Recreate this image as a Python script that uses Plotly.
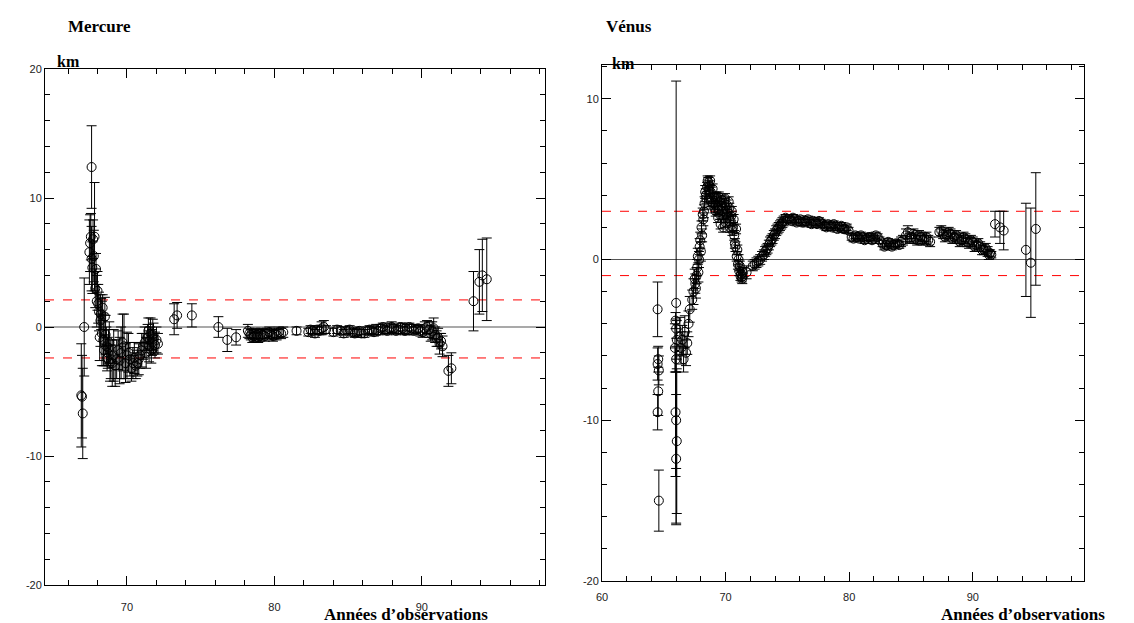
import plotly.graph_objects as go

# ---------------- Mercure data (year, residual km, error km) ----------------
mer_years = [66.9, 66.95, 67.0, 67.1, 67.6, 67.45, 67.5, 67.55, 67.6, 67.65, 67.7, 67.8, 67.85, 67.9,
             68.0, 68.1, 68.2, 68.3, 68.35, 68.4, 68.5, 68.6, 68.7, 68.8, 68.9, 69.0, 69.2, 69.4,
             69.6, 69.8, 70.0, 70.2, 70.4, 70.6, 70.8, 70.9, 71.0, 71.2, 71.4, 71.5, 71.6, 71.7,
             71.8, 72.0, 72.1, 73.2, 73.4, 74.4, 76.2, 76.8, 77.4,
             78.2, 78.4, 78.6, 78.8, 79.0, 79.2, 79.5, 79.8, 80.0, 80.3, 80.6, 81.5, 82.3, 82.6,
             82.9, 83.2, 83.5, 84.0, 84.5, 84.9, 85.3, 85.6, 85.9, 86.3, 86.6, 86.9, 87.2, 87.5,
             87.8, 88.1, 88.4, 88.7, 89.0, 89.3, 89.6, 89.9, 90.2, 90.5, 90.7, 90.9, 91.0, 91.2,
             91.4, 91.8, 92.0, 93.5, 93.9, 94.1, 94.4,
             67.75, 67.95, 68.05, 68.15, 68.25, 68.45, 68.55, 68.65, 68.75, 68.85, 69.1, 69.3, 69.5,
             69.7, 69.9, 70.1, 70.3, 70.5, 70.7, 71.1, 71.3, 71.45, 71.55, 71.65, 71.75, 71.9,
             78.3, 78.5, 78.7, 78.9, 79.1, 79.35, 79.65, 79.9, 80.15, 80.45, 82.45, 82.75, 83.05,
             83.35, 84.25, 84.7, 85.1, 85.45, 85.75, 86.1, 86.45, 86.75, 87.05, 87.35, 87.65, 87.95,
             88.25, 88.55, 88.85, 89.15, 89.45, 89.75, 90.05, 90.35, 90.6, 90.8, 91.1, 91.3]
mer_values = [-5.3, -5.4, -6.7, 0.0, 12.4, 5.8, 6.5, 7.0, 5.3, 4.6, 6.8, 7.0, 3.0, 4.5,
              2.8, 1.2, 0.5, -0.5, 1.5, -1.0, 0.8, -1.5, -2.0, -1.2, -2.5, -2.8, -3.0, -1.8,
              -2.0, -1.5, -2.2, -2.5, -2.8, -3.0, -2.5, -2.2, -1.8, -1.2, -0.8, -1.5, -0.5, -1.2,
              -0.9, -1.0, -1.3, 0.6, 0.9, 0.9, 0.0, -1.0, -0.8,
              -0.3, -0.6, -0.7, -0.6, -0.7, -0.6, -0.5, -0.6, -0.5, -0.4, -0.4, -0.3, -0.4, -0.3,
              -0.2, -0.1, -0.2, -0.4, -0.3, -0.3, -0.4, -0.4, -0.5, -0.3, -0.3, -0.2, -0.1, -0.2,
              -0.1, -0.1, -0.2, -0.1, -0.2, -0.1, -0.2, -0.3, -0.1, -0.2, -0.3, -0.6, -0.9, -1.3,
              -1.5, -3.4, -3.2, 2.0, 3.5, 4.0, 3.7,
              5.5, 2.0, 1.8, -0.8, 1.0, -1.8, -0.6, -2.4, -1.6, -2.8, -2.2, -2.5, -2.6,
              -1.2, -2.8, -2.0, -3.2, -2.4, -2.8, -1.5, -2.0, -0.3, -1.0, -1.8, -0.6, -1.4,
              -0.5, -0.8, -0.5, -0.8, -0.5, -0.7, -0.4, -0.7, -0.6, -0.5, -0.2, -0.5, -0.3,
              0.0, -0.2, -0.5, -0.2, -0.5, -0.3, -0.5, -0.2, -0.4, -0.3, 0.0, -0.3, 0.0,
              -0.3, 0.0, -0.3, 0.0, -0.3, -0.1, -0.4, 0.0, -0.5, -0.1, -0.8, -1.1]
mer_errors = [4.0, 3.2, 3.5, 3.8, 3.2, 2.5, 2.2, 1.8, 2.5, 2.0, 1.5, 4.2, 1.5, 1.2,
              1.5, 1.5, 2.0, 2.5, 1.0, 2.0, 1.5, 1.5, 1.2, 1.6, 1.5, 1.8, 1.6, 1.5,
              2.0, 2.5, 1.8, 1.3, 1.2, 1.0, 1.2, 1.0, 1.3, 1.2, 1.0, 1.2, 1.2, 1.0,
              1.2, 1.0, 0.8, 1.2, 1.0, 0.9, 0.8, 0.9, 0.6,
              0.5, 0.4, 0.4, 0.4, 0.4, 0.4, 0.4, 0.4, 0.4, 0.4, 0.4, 0.3, 0.3, 0.3,
              0.3, 0.5, 0.3, 0.3, 0.3, 0.3, 0.3, 0.3, 0.3, 0.3, 0.3, 0.4, 0.3, 0.3,
              0.4, 0.3, 0.3, 0.4, 0.4, 0.3, 0.3, 0.4, 0.5, 0.6, 0.7, 0.6, 0.6, 0.8,
              0.8, 1.2, 1.2, 2.3, 2.5, 2.8, 3.2,
              2.0, 2.0, 1.5, 1.8, 1.2, 1.2, 1.5, 1.0, 1.4, 1.4, 2.0, 1.5, 1.8,
              2.2, 1.5, 1.5, 1.0, 1.2, 1.0, 1.0, 1.2, 1.0, 1.0, 1.0, 1.2, 1.0,
              0.4, 0.4, 0.4, 0.4, 0.4, 0.4, 0.4, 0.4, 0.4, 0.4, 0.3, 0.3, 0.3,
              0.5, 0.3, 0.3, 0.3, 0.3, 0.3, 0.3, 0.3, 0.3, 0.3, 0.3, 0.3, 0.4,
              0.3, 0.3, 0.3, 0.3, 0.3, 0.3, 0.4, 0.5, 0.6, 0.8, 0.7, 0.6]
mer_limits = [2.1, -2.4]

# ---------------- Vénus data ----------------
ven_years = [64.5, 64.55, 64.5, 64.6, 64.55, 64.5, 64.6,
             66.0, 65.95, 66.0, 66.05, 65.9, 66.0, 65.95, 66.0, 66.05, 66.0,
             66.3, 66.4, 66.5, 66.6, 66.7, 66.8, 66.9, 67.0, 67.1,
             67.3, 67.4, 67.5, 67.6, 67.7, 67.75, 67.8, 67.9, 68.0, 68.1, 68.2, 68.3,
             68.4, 68.5, 68.6, 68.7, 68.8, 68.9, 69.0, 69.1, 69.2,
             69.3, 69.4, 69.5, 69.6, 69.7, 69.8, 69.9, 70.0, 70.1, 70.2, 70.3, 70.4, 70.5, 70.6,
             70.7, 70.8, 70.9, 71.0, 71.1, 71.2, 71.3, 71.4, 71.7,
             72.2, 72.5, 72.8, 73.1, 73.3, 73.5, 73.7, 73.9, 74.1, 74.3, 74.5, 74.7, 75.0,
             75.3, 75.6, 75.9, 76.2, 76.5, 76.8, 77.1, 77.4, 77.7, 78.0, 78.3, 78.6, 78.9, 79.2, 79.5, 79.8,
             80.2, 80.5, 80.8, 81.1, 81.4, 81.7, 82.0, 82.3,
             82.7, 83.0, 83.3, 83.6, 83.9, 84.2,
             84.6, 84.9, 85.2, 85.5, 85.8, 86.1, 86.4,
             87.3, 87.6, 87.9, 88.2, 88.5, 88.8, 89.1, 89.4, 89.7, 90.0, 90.3, 90.6, 90.9, 91.2, 91.4,
             91.8, 92.2, 92.5, 94.3, 94.7, 95.1,
             67.55, 67.65, 67.85, 67.95, 68.05, 68.15, 68.25, 68.35, 68.45, 68.55, 68.65, 68.75,
             68.85, 68.95, 69.05, 69.15, 69.25, 69.35, 69.45, 69.55, 69.65, 69.75, 69.85, 69.95,
             70.05, 70.15, 70.25, 70.35, 70.45, 70.55, 70.65, 70.75, 70.85, 70.95, 71.05, 71.15,
             71.25, 71.35,
             72.35, 72.65, 72.95, 73.2, 73.4, 73.6, 73.8, 74.0, 74.2, 74.4, 74.6, 74.85,
             75.15, 75.45, 75.75, 76.05, 76.35, 76.65, 76.95, 77.25, 77.55, 77.85, 78.15, 78.45,
             78.75, 79.05, 79.35, 79.65, 79.95,
             80.35, 80.65, 80.95, 81.25, 81.55, 81.85, 82.15, 82.45, 82.85, 83.15, 83.45, 83.75,
             84.05, 84.35, 84.75, 85.05, 85.35, 85.65, 85.95, 86.25, 86.55,
             87.45, 87.75, 88.05, 88.35, 88.65, 88.95, 89.25, 89.55, 89.85, 90.15, 90.45, 90.75,
             91.05, 91.3, 91.5]
ven_values = [-3.1, -6.2, -6.5, -6.9, -8.2, -9.5, -15.0,
              -2.7, -3.8, -4.3, -5.0, -5.5, -6.2, -9.5, -10.0, -11.3, -12.4,
              -4.8, -5.5, -5.0, -6.2, -4.5, -5.8, -5.2, -4.0, -3.1,
              -2.5, -2.0, -1.2, -1.8, -0.5, 0.2, -0.8, 0.8, 0.5, 1.5, 2.5, 3.5,
              4.0, 4.5, 4.8, 4.6, 4.2, 3.8, 3.5, 3.2, 3.0,
              3.8, 2.6, 3.6, 2.2, 3.7, 2.0, 3.5, 2.3, 3.4, 2.6, 3.2, 2.4, 3.0, 2.0,
              1.5, 0.8, 0.2, -0.3, -0.7, -1.0, -1.1, -0.8, -0.8,
              -0.4, -0.2, 0.0, 0.3, 0.6, 0.9, 1.2, 1.5, 1.8, 2.0, 2.2, 2.4, 2.5,
              2.4, 2.5, 2.4, 2.3, 2.4, 2.3, 2.4, 2.2, 2.3, 2.1, 2.2, 2.0, 2.1, 2.0, 1.9, 2.0,
              1.4, 1.5, 1.3, 1.4, 1.3, 1.4, 1.3, 1.4,
              1.0, 0.9, 1.0, 0.9, 1.0, 1.1,
              1.5, 1.3, 1.6, 1.2, 1.4, 1.3, 1.2,
              1.7, 1.6, 1.5, 1.6, 1.4, 1.3, 1.2, 1.3, 1.0, 1.1, 0.9, 0.8, 0.6, 0.5, 0.4,
              2.2, 2.0, 1.8, 0.6, -0.2, 1.9,
              -1.5, -1.0, 0.0, 1.2, 2.0, 2.8, 3.0, 4.2, 3.8, 4.9, 4.3, 4.9,
              3.6, 4.4, 3.9, 3.4, 3.9, 3.1, 3.9, 2.8, 3.3, 3.0, 2.6, 3.8,
              2.8, 3.0, 3.6, 2.0, 2.7, 1.8, 2.5, 1.0, 1.9, 0.6, 0.0, -0.4,
              -0.9, -1.2,
              -0.3, -0.1, 0.2, 0.5, 0.7, 1.1, 1.3, 1.6, 1.9, 2.1, 2.3, 2.6,
              2.5, 2.6, 2.3, 2.5, 2.3, 2.5, 2.2, 2.3, 2.4, 2.2, 2.0, 2.1,
              2.2, 1.9, 2.1, 1.9, 1.8,
              1.3, 1.4, 1.5, 1.2, 1.4, 1.2, 1.5, 1.2, 0.8, 1.1, 0.8, 1.0,
              0.9, 1.2, 1.7, 1.4, 1.3, 1.5, 1.2, 1.4, 1.1,
              1.8, 1.4, 1.7, 1.3, 1.5, 1.1, 1.4, 1.1, 1.2, 0.8, 1.0, 0.6,
              0.7, 0.3, 0.3]
ven_errors = [1.7, 0.8, 1.0, 0.9, 1.5, 1.1, 1.9,
              13.8, 0.5, 0.6, 1.2, 1.5, 0.8, 4.0, 3.0, 4.5, 4.0,
              1.2, 1.0, 0.9, 0.8, 1.0, 0.8, 0.7, 0.8, 0.8,
              0.6, 0.8, 0.6, 0.6, 0.5, 0.5, 0.6, 0.5, 0.6, 0.4, 0.4, 0.4,
              0.4, 0.3, 0.3, 0.3, 0.3, 0.3, 0.3, 0.3, 0.3,
              0.3, 0.3, 0.3, 0.3, 0.3, 0.3, 0.3, 0.3, 0.3, 0.3, 0.3, 0.3, 0.3, 0.3,
              0.3, 0.3, 0.3, 0.3, 0.3, 0.3, 0.3, 0.3, 0.4,
              0.3, 0.3, 0.3, 0.3, 0.3, 0.3, 0.3, 0.3, 0.3, 0.3, 0.3, 0.3, 0.2,
              0.2, 0.2, 0.2, 0.2, 0.2, 0.2, 0.2, 0.2, 0.2, 0.2, 0.2, 0.2, 0.2, 0.2, 0.2, 0.2,
              0.2, 0.2, 0.2, 0.2, 0.2, 0.2, 0.2, 0.2,
              0.2, 0.2, 0.2, 0.2, 0.2, 0.3,
              0.4, 0.3, 0.3, 0.3, 0.3, 0.3, 0.3,
              0.3, 0.3, 0.3, 0.3, 0.3, 0.3, 0.3, 0.3, 0.3, 0.3, 0.3, 0.3, 0.3, 0.3, 0.2,
              0.8, 1.0, 1.2, 2.9, 3.4, 3.5,
              0.6, 0.5, 0.5, 0.5, 0.4, 0.4, 0.4, 0.4, 0.3, 0.3, 0.3, 0.3,
              0.3, 0.3, 0.3, 0.3, 0.3, 0.3, 0.3, 0.3, 0.3, 0.3, 0.3, 0.3,
              0.3, 0.3, 0.3, 0.3, 0.3, 0.3, 0.3, 0.3, 0.3, 0.3, 0.3, 0.3,
              0.3, 0.3,
              0.3, 0.3, 0.3, 0.3, 0.3, 0.3, 0.3, 0.3, 0.3, 0.3, 0.3, 0.2,
              0.2, 0.2, 0.2, 0.2, 0.2, 0.2, 0.2, 0.2, 0.2, 0.2, 0.2, 0.2,
              0.2, 0.2, 0.2, 0.2, 0.2,
              0.2, 0.2, 0.2, 0.2, 0.2, 0.2, 0.2, 0.2, 0.2, 0.2, 0.2, 0.2,
              0.2, 0.3, 0.4, 0.3, 0.3, 0.3, 0.3, 0.3, 0.3,
              0.3, 0.3, 0.3, 0.3, 0.3, 0.3, 0.3, 0.3, 0.3, 0.3, 0.3, 0.3,
              0.3, 0.3, 0.2]
ven_limits = [3.0, -1.0]

x_ticks_mer = [70, 80, 90]
y_ticks_mer = [-20, -10, 0, 10, 20]
x_ticks_ven = [60, 70, 80, 90]
y_ticks_ven = [-20, -10, 0, 10]

W, H = 1134, 623
fig = go.Figure()

marker = dict(symbol="circle-open", size=9, color="black", line=dict(width=1, color="black"))

fig.add_trace(go.Scatter(
    x=mer_years, y=mer_values, mode="markers", marker=marker,
    error_y=dict(type="data", array=mer_errors, visible=True, color="black", thickness=1, width=5),
    xaxis="x", yaxis="y", showlegend=False))
fig.add_trace(go.Scatter(
    x=ven_years, y=ven_values, mode="markers", marker=marker,
    error_y=dict(type="data", array=ven_errors, visible=True, color="black", thickness=1, width=5),
    xaxis="x2", yaxis="y2", showlegend=False))

shapes = []
for xr, yr, lims in [("x", "y", mer_limits), ("x2", "y2", ven_limits)]:
    shapes.append(dict(type="line", xref=xr + " domain", yref=yr, x0=0, x1=1, y0=0, y1=0,
                       line=dict(color="#555555", width=1.2), layer="below"))
    for v in lims:
        shapes.append(dict(type="line", xref=xr + " domain", yref=yr, x0=0, x1=1, y0=v, y1=v,
                           line=dict(color="red", width=1, dash="dash"), layer="below"))

tickfont = dict(family="Liberation Sans, Arial, sans-serif", size=11, color="#222")

def axis(domain, rng, tickvals, minor_dt, anchor):
    return dict(domain=domain, range=rng, tickvals=tickvals, ticktext=[str(t) for t in tickvals],
                showline=True, linecolor="black", linewidth=1, mirror="allticks",
                ticks="inside", ticklen=9, tickwidth=1, tickcolor="black",
                minor=dict(dtick=minor_dt, tick0=0, ticks="inside", ticklen=5, tickcolor="black", tickwidth=1),
                showgrid=False, zeroline=False, tickfont=tickfont, anchor=anchor, automargin=False)

fig.update_layout(
    width=W, height=H, margin=dict(l=0, r=0, t=0, b=0),
    plot_bgcolor="white", paper_bgcolor="white",
    xaxis=axis([37 / W, 537 / W], [64.44, 98.35], x_ticks_mer, 2, "y"),
    yaxis=axis([1 - 577 / H, 1 - 61 / H], [-20, 20], y_ticks_mer, 2, "x"),
    xaxis2=axis([594 / W, 1076 / W], [60, 99], x_ticks_ven, 2, "y2"),
    yaxis2=axis([1 - 573 / H, 1 - 57 / H], [-20, 12.1], y_ticks_ven, 2, "x2"),
    shapes=shapes,
)
fig.update_layout(xaxis=dict(ticklabelstandoff=12), xaxis2=dict(ticklabelstandoff=6))

serif = dict(family="Liberation Serif, Times New Roman, serif", size=17, color="black")
ann = []
def txt(s, x, y, size=17):
    f = dict(serif); f["size"] = size
    ann.append(dict(text="<b>" + s + "</b>", x=x / W, y=1 - y / H, xref="paper", yref="paper",
                    xanchor="left", yanchor="middle", showarrow=False, font=f))
txt("Mercure", 58, 18)
txt("km", 47, 53, 16)
txt("Années d’observations", 314, 606)
txt("Vénus", 596, 18)
txt("km", 602, 55, 16)
txt("Années d’observations", 931, 606)
fig.update_layout(annotations=ann)

fig.write_html("out.html")
